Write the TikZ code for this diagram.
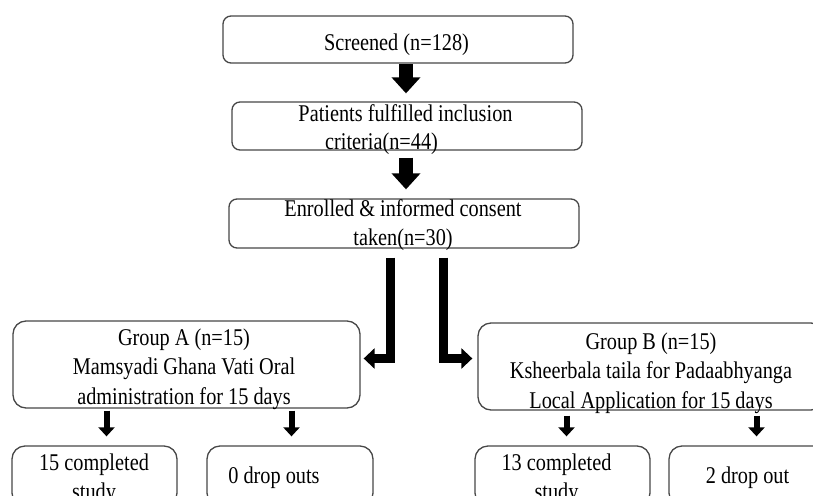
\documentclass[tikz,border=0pt]{standalone}
\usepackage{fontspec}
\setmainfont{Liberation Serif}[FakeStretch=0.845]
\usetikzlibrary{arrows.meta,calc}
\newcommand\ftop{\rule{0pt}{17pt}}
\begin{document}
\begin{tikzpicture}[x=1pt,y=-1pt,
  box/.style={draw=black!72,line width=1.3pt,rounded corners=8pt,inner sep=0pt},
  gbox/.style={box,rounded corners=13pt},
  txt/.style={inner sep=0pt,anchor=north,align=center,font=\fontsize{24}{28.5}\selectfont},
  gtxt/.style={txt,font=\fontsize{24}{29.5}\selectfont},
  bigarrow/.style={line width=14pt,-{Triangle[width=28pt,length=16pt]}},
  elbow/.style={line width=9pt,miter limit=10,line join=miter,-{Triangle[width=20pt,length=11pt]}},
  smallarrow/.style={line width=6pt,-{Triangle[width=16pt,length=9pt]}}]
\useasboundingbox (0,0) rectangle (813,495);
\clip (0,0) rectangle (813,495);
% boxes
\node[box,minimum width=350pt,minimum height=47pt] (s) at (398,39.5) {};
\node[box,minimum width=350pt,minimum height=48pt] (p) at (407,126) {};
\node[box,minimum width=350pt,minimum height=49pt] (e) at (404,223.5) {};
\node[gbox,minimum width=347pt,minimum height=87pt] (ga) at (186.5,364.5) {};
\node[gbox,minimum width=346pt,minimum height=87pt] (gb) at (651,366.5) {};
\node[gbox,minimum width=165pt,minimum height=60pt] (a1) at (94.5,476) {};
\node[gbox,minimum width=166pt,minimum height=60pt] (a2) at (290,476) {};
\node[gbox,minimum width=175pt,minimum height=60pt] (b1) at (562.5,476) {};
\node[gbox,minimum width=157pt,minimum height=60pt] (b2) at (747.5,476) {};
% texts
\node[txt] (ts) at (396.5,33) {\ftop Screened (n=128)};
\node[txt] (tp) at (405.5,104) {\ftop Patients fulfilled inclusion\\criteria(n=44)\hspace*{48pt}};
\node[txt] (te) at (403,199.7) {\ftop Enrolled \& informed consent\\taken(n=30)};
\node[gtxt] (tga) at (184,328) {\ftop Group A (n=15)\\Mamsyadi Ghana Vati Oral\\administration for 15 days};
\node[gtxt] (tgb) at (651,332) {\ftop Group B (n=15)\\Ksheerbala taila for Padaabhyanga\\Local Application for 15 days};
\node[gtxt] (ta1) at (94,453) {\ftop 15 completed\\study};
\node[gtxt] (ta2) at (274,466) {\ftop 0 drop outs};
\node[gtxt] (tb1) at (556.5,453) {\ftop 13 completed\\study};
\node[gtxt] (tb2) at (747.5,466) {\ftop 2 drop out};
% arrows
\draw[bigarrow] ([xshift=8pt,yshift=-0.5pt]s.south) -- ([xshift=-1pt,yshift=8pt]p.north);
\draw[bigarrow] ([xshift=-1pt,yshift=-7pt]p.south) -- ([xshift=2pt,yshift=9pt]e.north);
\draw[elbow] ([xshift=-13.5pt,yshift=-9pt]e.south) |- ([xshift=3pt,yshift=6pt]ga.east);
\draw[elbow] ([xshift=39.5pt,yshift=-9pt]e.south) |- ([xshift=-5pt,yshift=8pt]gb.west);
\draw[smallarrow] ($(a1.north |- ga.south)+(12,2)$) -- ($(a1.north)+(12,-9)$);
\draw[smallarrow] ($(a2.north |- ga.south)+(1.5,2)$) -- ($(a2.north)+(1.5,-9)$);
\draw[smallarrow] ($(b1.north |- gb.south)+(4,5)$) -- ($(b1.north)+(4,-9)$);
\draw[smallarrow] ($(b2.north |- gb.south)+(9,5)$) -- ($(b2.north)+(9,-9)$);
\end{tikzpicture}
\end{document}
